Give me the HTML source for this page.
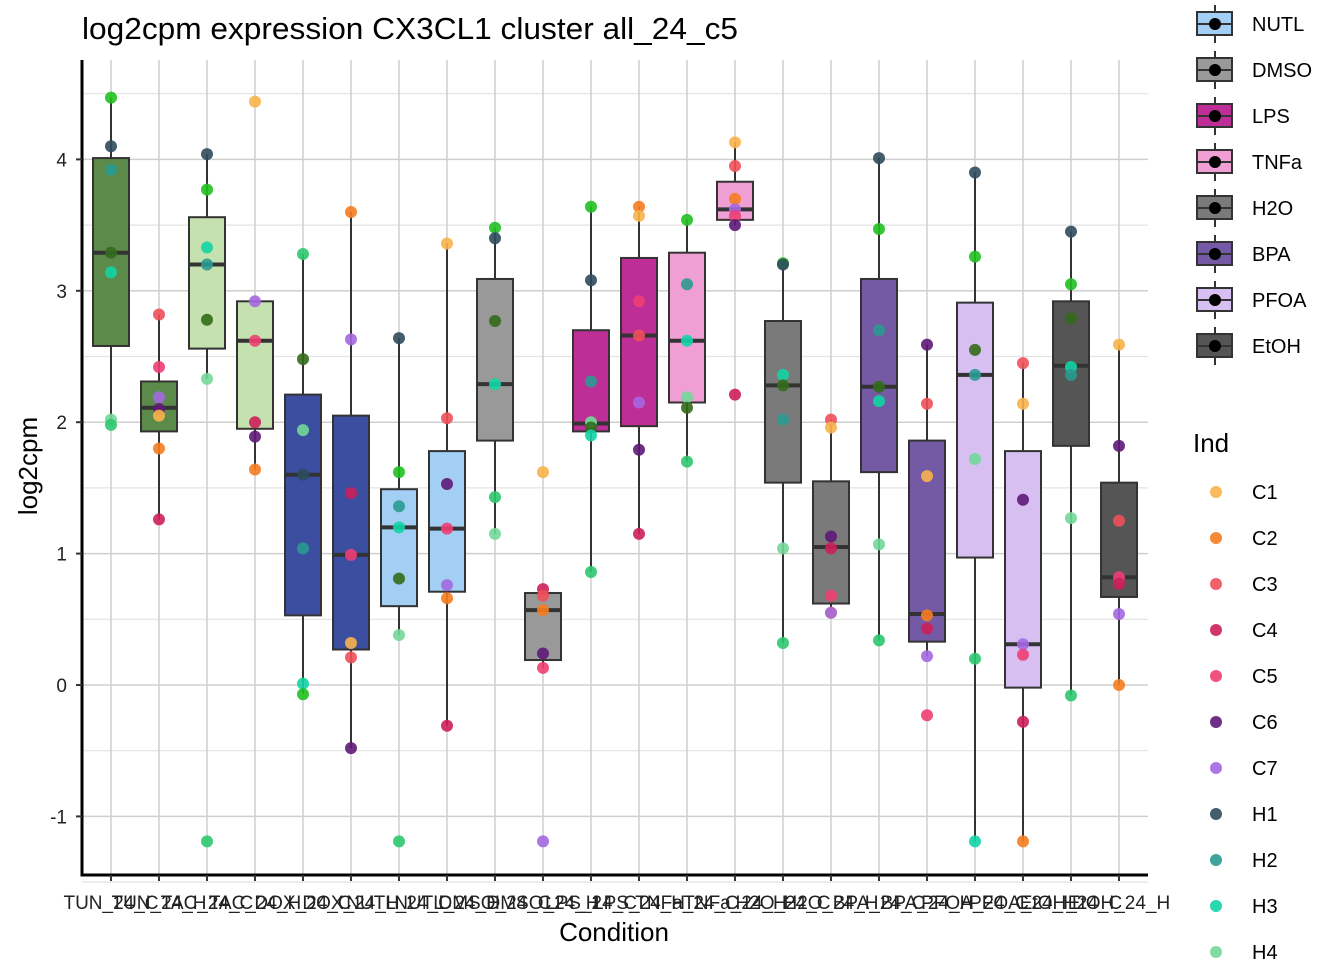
<!DOCTYPE html>
<html><head><meta charset="utf-8"><style>
body{margin:0;background:#fff;}
svg text{font-family:"Liberation Sans",Arial,sans-serif;}
</style></head><body>
<svg id="chart" width="1344" height="960" xmlns="http://www.w3.org/2000/svg">
<rect width="1344" height="960" fill="#fff"/>
<text x="82" y="39" font-size="31" fill="#000" textLength="656" lengthAdjust="spacingAndGlyphs">log2cpm expression CX3CL1 cluster all_24_c5</text>
<g id="grid"></g><g id="boxes"></g><g id="pts"></g><g id="axes"></g><g id="legend"></g>
<text x="614" y="941" font-size="26" text-anchor="middle">Condition</text>
<text transform="translate(37,466) rotate(-90)" font-size="26" text-anchor="middle">log2cpm</text>
</svg>
<script>
const categories=["TUN_24_C","TUN_24_H","TAC_24_C","TAC_24_H","DOX_24_C","DOX_24_H","NUTL_24_C","NUTL_24_H","DMSO_24_C","DMSO_24_H","LPS_24_C","LPS_24_H","TNFa_24_C","TNFa_24_H","H2O_24_C","H2O_24_H","BPA_24_C","BPA_24_H","PFOA_24_C","PFOA_24_H","EtOH_24_C","EtOH_24_H"];
const boxFill=["#5b8a4b","#5b8a4b","#c5e1af","#c5e1af","#3b4ea0","#3b4ea0","#a3cff5","#a3cff5","#999999","#999999","#bd2f96","#bd2f96","#f09fd4","#f09fd4","#7a7a7a","#7a7a7a","#7459a4","#7459a4","#d8bff2","#d8bff2","#555555","#555555"];
const q1=[2.58,1.93,2.56,1.95,0.53,0.27,0.60,0.71,1.86,0.19,1.93,1.97,2.15,3.54,1.54,0.62,1.62,0.33,0.97,-0.02,1.82,0.67];
const med=[3.29,2.11,3.20,2.62,1.60,0.99,1.20,1.19,2.29,0.57,1.99,2.66,2.62,3.62,2.28,1.05,2.27,0.54,2.36,0.31,2.43,0.82];
const q3=[4.01,2.31,3.56,2.92,2.21,2.05,1.49,1.78,3.09,0.70,2.70,3.25,3.29,3.83,2.77,1.55,3.09,1.86,2.91,1.78,2.92,1.54];
const wLo=[1.98,1.26,2.33,1.64,-0.07,-0.48,0.38,-0.31,1.15,0.13,0.86,1.15,1.70,3.50,0.32,0.55,0.34,0.22,-1.19,-1.19,-0.08,0.0];
const wHi=[4.47,2.82,4.04,2.92,3.28,3.60,2.64,3.36,3.48,0.73,3.64,3.64,3.54,4.13,3.21,2.02,4.01,2.59,3.90,2.45,3.45,2.59];
const indNames=["C1","C2","C3","C4","C5","C6","C7","H1","H2","H3","H4","H5","H6","H7"];
const indColors=["#f8b24a","#f57c1f","#f0505a","#cc1f5a","#ee3e72","#5e1a78","#a468e0","#2f4b5c","#2a9a90","#12d4a4","#72d898","#2ec86e","#20c020","#336a1a"];
const ptVals=[
[4.47,4.10,3.92,3.29,3.14,2.02,1.98],
[2.82,2.42,2.19,2.10,2.05,1.80,1.26],
[4.04,3.77,3.33,3.20,2.78,2.33,-1.19],
[4.44,2.92,2.62,2.00,1.89,1.64],
[3.28,2.48,1.94,1.60,1.04,0.01,-0.07],
[3.60,2.63,1.46,0.99,0.32,0.21,-0.48],
[2.64,1.62,1.36,1.20,0.81,0.38,-1.19],
[3.36,2.03,1.53,1.19,0.76,0.66,-0.31],
[3.48,3.40,2.77,2.29,1.43,1.15],
[1.62,0.73,0.68,0.57,0.24,0.13,-1.19],
[3.64,3.08,2.31,2.00,1.96,1.90,0.86],
[3.64,3.57,2.92,2.66,2.15,1.79,1.15],
[3.54,3.05,2.62,2.19,2.11,1.70],
[4.13,3.95,3.70,3.62,3.57,3.50,2.21],
[3.21,3.20,2.36,2.28,2.02,1.04,0.32],
[2.02,1.96,1.13,1.04,0.68,0.55,0.55],
[4.01,3.47,2.70,2.27,2.16,1.07,0.34],
[2.59,2.14,1.59,0.53,0.43,0.22,-0.23],
[3.90,3.26,2.55,2.36,1.72,0.20,-1.19],
[2.45,2.14,1.41,0.31,0.23,-0.28,-1.19],
[3.45,3.05,2.79,2.42,2.36,1.27,-0.08],
[2.59,1.82,1.25,0.82,0.77,0.54,0.0]];
const ptInd=[
[12,7,8,13,9,10,11],[2,4,6,5,0,1,3],[7,12,9,8,13,10,11],[0,6,4,3,5,1],
[11,13,10,7,8,9,12],[1,6,3,4,0,2,5],[7,12,8,9,13,10,11],[0,2,5,4,6,1,3],
[12,7,13,9,11,10],[0,3,2,1,5,4,6],[12,7,8,10,13,9,11],[1,0,4,2,6,5,3],
[12,8,9,10,13,11],[0,2,1,6,4,5,3],[12,7,9,13,8,10,11],[2,0,5,3,4,1,6],
[7,12,8,13,9,10,11],[5,2,0,1,3,6,4],[7,12,13,8,10,11,9],[2,0,5,6,4,3,1],
[7,12,13,9,8,10,11],[0,5,2,4,3,6,1]];
const yTicks=[-1,0,1,2,3,4];
const legendNames=["NUTL","DMSO","LPS","TNFa","H2O","BPA","PFOA","EtOH"];
const legendFills=["#a3cff5","#999999","#bd2f96","#f09fd4","#7a7a7a","#7459a4","#d8bff2","#555555"];

const NS="http://www.w3.org/2000/svg";
const X0=82,X1=1148,Y0=60,Y1=875;
function yS(v){return 685-v*131.4;}
function xS(i){return 111+i*48;}
function mk(tag,attrs,parent){const e=document.createElementNS(NS,tag);for(const k in attrs)e.setAttribute(k,attrs[k]);parent.appendChild(e);return e;}
const grid=document.getElementById('grid'),boxes=document.getElementById('boxes'),pts=document.getElementById('pts'),axes=document.getElementById('axes'),leg=document.getElementById('legend');
for(let v=-1.5;v<=4.5;v+=0.5){
  const g=mk('line',{x1:X0,x2:X1,y1:yS(v),y2:yS(v),stroke:Number.isInteger(v)?'#cfcfcf':'#e3e3e3','stroke-width':Number.isInteger(v)?1.5:1.2},grid);
  
  
}
categories.forEach((c,i)=>{
  const g=mk('line',{x1:xS(i),x2:xS(i),y1:Y0,y2:Y1,stroke:'#cfcfcf','stroke-width':1.5},grid);
  
  
});
categories.forEach((c,i)=>{
  const x=xS(i),w=36;
  const grp=mk('g',{},boxes);
  
  
  mk('line',{x1:x,x2:x,y1:yS(wHi[i]),y2:yS(q3[i]),stroke:'#333','stroke-width':2},grp);
  mk('line',{x1:x,x2:x,y1:yS(q1[i]),y2:yS(wLo[i]),stroke:'#333','stroke-width':2},grp);
  mk('rect',{x:x-w/2,y:yS(q3[i]),width:w,height:yS(q1[i])-yS(q3[i]),fill:boxFill[i],stroke:'#333','stroke-width':2},grp);
  mk('line',{x1:x-w/2,x2:x+w/2,y1:yS(med[i]),y2:yS(med[i]),stroke:'#333','stroke-width':4},grp);
});
ptVals.forEach((arr,i)=>{
  arr.forEach((v,j)=>{
    const p=mk('circle',{cx:xS(i),cy:yS(v),r:6,fill:indColors[ptInd[i][j]],'fill-opacity':0.9},pts);
    
    
  });
});
let a=mk('line',{x1:X0,x2:X0,y1:Y0,y2:Y1+1.5,stroke:'#000','stroke-width':3},axes);


a=mk('line',{x1:X0-1.5,x2:X1,y1:Y1,y2:Y1,stroke:'#000','stroke-width':3},axes);


yTicks.forEach(v=>{
  mk('line',{x1:X0-6,x2:X0,y1:yS(v),y2:yS(v),stroke:'#333','stroke-width':2},axes);
  const t=mk('text',{x:X0-15,y:yS(v)+7,'font-size':19,'text-anchor':'end',fill:'#222'},axes);
  t.textContent=v;
  
  
});
categories.forEach((c,i)=>{
  mk('line',{x1:xS(i),x2:xS(i),y1:Y1,y2:Y1+6,stroke:'#333','stroke-width':2},axes);
  const t=mk('text',{x:xS(i),y:909,'font-size':19,'text-anchor':'middle',fill:'#222'},axes);
  t.textContent=c;
  
  
});
legendNames.forEach((n,i)=>{
  const cy=24+i*46;
  const g=mk('g',{},leg);
  
  
  mk('line',{x1:1215,x2:1215,y1:cy-19,y2:cy+19,stroke:'#333','stroke-width':2},g);
  mk('rect',{x:1197,y:cy-12,width:35,height:23,fill:legendFills[i],stroke:'#333','stroke-width':2},g);
  mk('line',{x1:1197,x2:1232,y1:cy,y2:cy,stroke:'#333','stroke-width':2},g);
  mk('circle',{cx:1215,cy:cy,r:6,fill:'#000'},g);
  const t=mk('text',{x:1252,y:cy+7,'font-size':20,fill:'#000'},g);
  t.textContent=n;
});
const it=mk('text',{x:1193,y:452,'font-size':26,fill:'#000'},leg);
it.textContent='Ind';


indNames.forEach((n,i)=>{
  const cy=492+i*46;
  if(cy>980)return;
  const g=mk('g',{},leg);
  
  
  mk('circle',{cx:1216,cy:cy,r:6,fill:indColors[i],'fill-opacity':0.9},g);
  const t=mk('text',{x:1252,y:cy+7,'font-size':20,fill:'#000'},g);
  t.textContent=n;
});
</script>
</body></html>
